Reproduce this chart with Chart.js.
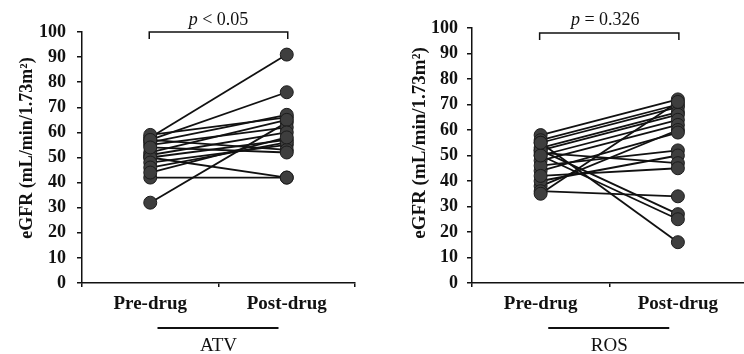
<!DOCTYPE html>
<html>
<head>
<meta charset="utf-8">
<script src="https://cdn.jsdelivr.net/npm/chart.js@4.4.1/dist/chart.umd.min.js"></script>
<style>
  html, body { margin: 0; padding: 0; background: #fff; overflow: hidden; width: 744px; height: 354px; }
  canvas { position: absolute; top: 0; }
  #atvChart { left: 0; }
  #rosChart { left: 380px; }
</style>
</head>
<body>
<canvas id="atvChart" width="372" height="354"></canvas>
<canvas id="rosChart" width="374" height="354"></canvas>
<script>
// categories and tick labels
var categories = ['Pre-drug', 'Post-drug'];
var yTicks = [0, 10, 20, 30, 40, 50, 60, 70, 80, 90, 100];

// ATV: one pair per patient (pre, post)
var atvPre  = [58, 57, 32, 42, 50, 59, 56, 55, 52, 51, 50, 48, 46, 57, 54, 44];
var atvPost = [91, 76, 64, 42, 42, 66, 67, 62, 65, 60, 57, 55, 56, 53, 52, 58];

// ROS
var rosPre  = [58, 56, 55, 53, 52, 50, 48, 38, 44, 46, 40, 51, 42, 36, 52, 50, 55, 35];
var rosPost = [72, 70, 69, 67, 66, 64, 62, 60, 59, 52, 50, 47, 45, 34, 27, 25, 16, 71];

var serif = "'Liberation Serif', 'Times New Roman', serif";
var ink = '#111';

function buildDatasets(pre, post) {
  var sets = pre.map(function(v, i) {
    return {
      data: [v, post[i]],
      borderColor: ink,
      borderWidth: 1.8,
      pointRadius: 0,
      fill: false,
      order: 1
    };
  });
  // markers on top of the lines
  [pre, post].forEach(function(arr, k) {
    sets.push({
      data: arr.map(function(v) { return { x: categories[k], y: v }; }),
      showLine: false,
      pointRadius: 6.5,
      pointBackgroundColor: '#3e3e3e',
      pointBorderColor: '#1c1c1c',
      pointBorderWidth: 1,
      order: 0
    });
  });
  return sets;
}

// bracket, p value, group label, rotated y title
function groupPlugin(cfg) {
  return {
    id: 'group' + cfg.group,
    afterDraw: function(chart) {
      var ctx = chart.ctx;
      var xs = chart.scales.x;
      var x0 = xs.getPixelForValue(0), x1 = xs.getPixelForValue(1);
      var mid = (xs.left + xs.right) / 2;
      ctx.save();
      ctx.strokeStyle = ink;
      ctx.fillStyle = ink;

      // significance bracket
      var by = cfg.bracketY;
      ctx.lineWidth = 1.5;
      ctx.beginPath();
      ctx.moveTo(x0 - 1, by + 7);
      ctx.lineTo(x0 - 1, by);
      ctx.lineTo(x1 + 1, by);
      ctx.lineTo(x1 + 1, by + 7);
      ctx.stroke();

      // p value text, italic p
      ctx.textBaseline = 'middle';
      ctx.textAlign = 'left';
      var fItal = 'italic 18px ' + serif, fReg = '18px ' + serif;
      ctx.font = fItal;
      var wp = ctx.measureText('p').width;
      ctx.font = fReg;
      var wr = ctx.measureText(cfg.pText).width;
      var px = (x0 + x1) / 2 - (wp + wr) / 2 + cfg.pShift;
      ctx.font = fItal;
      ctx.fillText('p', px, 20);
      ctx.font = fReg;
      ctx.fillText(cfg.pText, px + wp, 20);

      // group underline and name
      ctx.lineWidth = 2;
      ctx.beginPath();
      ctx.moveTo(mid - 61, 328);
      ctx.lineTo(mid + 60, 328);
      ctx.stroke();
      ctx.textAlign = 'center';
      ctx.font = '19px ' + serif;
      ctx.fillText(cfg.group, mid, 346);

      // y axis title
      ctx.translate(cfg.titleX, cfg.titleY);
      ctx.rotate(-Math.PI / 2);
      ctx.font = 'bold ' + cfg.titleSize + 'px ' + serif;
      ctx.fillText('eGFR (mL/min/1.73m\u00B2)', 0, 0);
      ctx.restore();
    }
  };
}

function makeChart(id, pre, post, opts) {
  return new Chart(document.getElementById(id), {
    type: 'line',
    data: { labels: categories, datasets: buildDatasets(pre, post) },
    options: {
      responsive: false,
      animation: false,
      devicePixelRatio: 1,
      events: [],
      layout: { padding: { top: opts.top, right: opts.right, left: 0, bottom: 0 } },
      plugins: { legend: { display: false }, tooltip: { enabled: false } },
      scales: {
        x: {
          type: 'category',
          offset: true,
          afterFit: function(s) { s.height = 71; },
          grid: { drawOnChartArea: false, offset: true, tickLength: 4, color: ink, lineWidth: 1.5 },
          border: { color: ink, width: 1.5 },
          ticks: { color: ink, padding: 6, font: { family: serif, size: 19, weight: 'bold' } }
        },
        y: {
          min: yTicks[0],
          max: yTicks[yTicks.length - 1],
          afterFit: function(s) { s.width = opts.yWidth; },
          afterBuildTicks: function(s) { s.ticks = yTicks.map(function(v) { return { value: v }; }); },
          grid: { drawOnChartArea: false, tickLength: 5, color: ink, lineWidth: 1.5 },
          border: { color: ink, width: 1.5 },
          ticks: { color: ink, padding: opts.tickPad, font: { family: serif, size: 18, weight: 'bold' } }
        }
      }
    },
    plugins: [groupPlugin(opts)]
  });
}

makeChart('atvChart', atvPre, atvPost, {
  group: 'ATV', pText: ' < 0.05', pShift: 0,
  top: 32, right: 17, yWidth: 82, tickPad: 11,
  bracketY: 32, titleX: 27, titleY: 148, titleSize: 18
});

makeChart('rosChart', rosPre, rosPost, {
  group: 'ROS', pText: ' = 0.326', pShift: -4,
  top: 28, right: 0, yWidth: 92, tickPad: 9,
  bracketY: 33, titleX: 40, titleY: 143, titleSize: 19
});
</script>
</body>
</html>
